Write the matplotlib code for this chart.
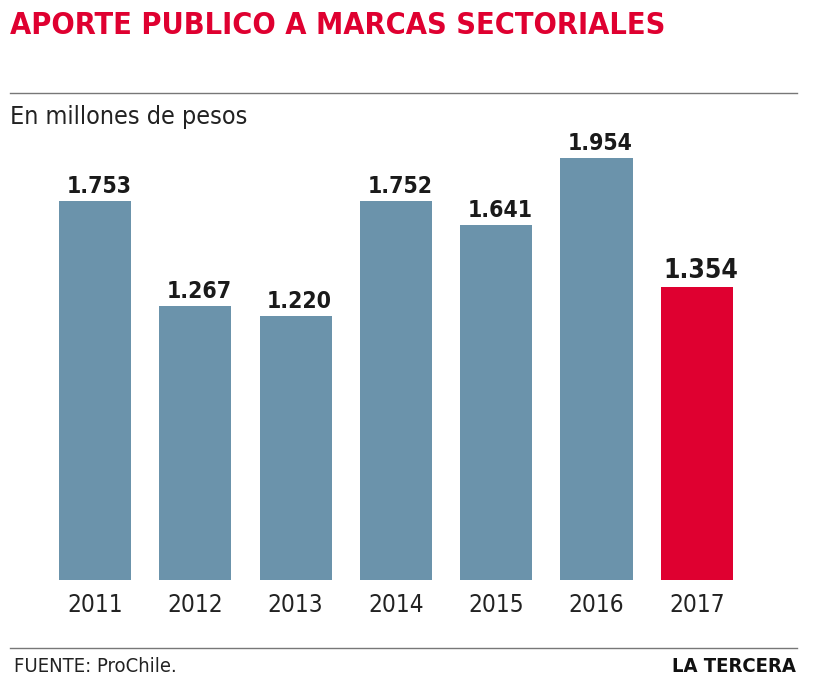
import matplotlib
matplotlib.use("Agg")
import matplotlib.pyplot as plt
from matplotlib.lines import Line2D

years = ["2011", "2012", "2013", "2014", "2015", "2016", "2017"]
values = [1753, 1267, 1220, 1752, 1641, 1954, 1354]
labels = ["1.753", "1.267", "1.220", "1.752", "1.641", "1.954", "1.354"]

BLUE = "#6b93ab"
RED = "#df0030"
FAM = "DejaVu Sans"

fig = plt.figure(figsize=(8.2, 6.84), dpi=100)
W, H = 820, 684

def fx(px):
    return px / W

def fy(py):
    return 1 - py / H

ax = fig.add_axes([fx(44.8), fy(580), fx(702.3), 432.4 / H])
colors = [BLUE] * (len(years) - 1) + [RED]
x = list(range(len(years)))
ax.bar(x, values, width=0.72, color=colors)
ax.set_xlim(-0.5, len(years) - 0.5)
ax.set_ylim(0, 2000)
for s in ax.spines.values():
    s.set_visible(False)
ax.set_yticks([])
ax.set_xticks(x)
ax.set_xticklabels(years, family=FAM, stretch="condensed", fontsize=17.5, color="#222222")
ax.tick_params(axis="x", length=0, pad=9)

for i, (v, lab) in enumerate(zip(values, labels)):
    last = i == len(values) - 1
    ax.annotate(lab, (i + 0.04, v), xytext=(0, 2), textcoords="offset points",
                ha="center", va="bottom", family=FAM, stretch="condensed",
                fontweight="bold", fontsize=19 if last else 16.5, color="#1a1a1a")

fig.text(fx(10), fy(26), "APORTE PUBLICO A MARCAS SECTORIALES", color=RED,
         family=FAM, stretch="condensed", fontweight="bold", fontsize=22,
         ha="left", va="center")
fig.add_artist(Line2D([fx(10), fx(797)], [fy(93), fy(93)], color="#777777", lw=1.0))
fig.text(fx(10), fy(117), "En millones de pesos", color="#222222", family=FAM,
         stretch="condensed", fontsize=18, ha="left", va="center")

fig.add_artist(Line2D([fx(10), fx(797)], [fy(648), fy(648)], color="#777777", lw=1.0))
fig.text(fx(14), fy(666), "FUENTE: ProChile.", color="#222222", family=FAM,
         stretch="condensed", fontsize=14.5, ha="left", va="center")
fig.text(fx(796), fy(666), "LA TERCERA", color="#111111", family=FAM,
         stretch="condensed", fontweight="bold", fontsize=14.5, ha="right", va="center")

fig.savefig("out.png", dpi=100)
